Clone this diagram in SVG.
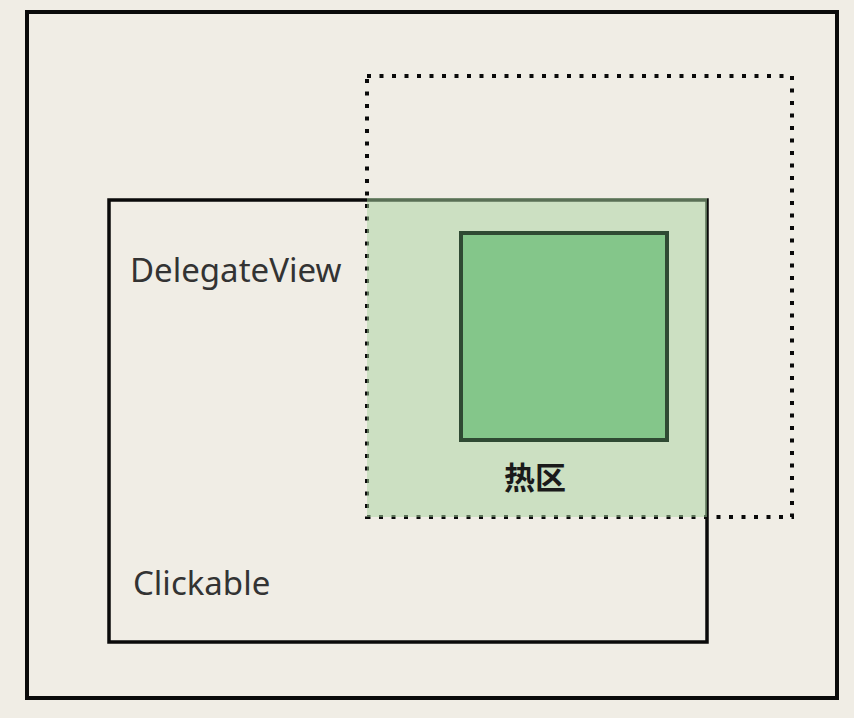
<svg xmlns="http://www.w3.org/2000/svg" width="854" height="718" viewBox="0 0 854 718">
<style>
.box{fill:none;stroke:#0a0a0a}
.lbl{font-family:"Noto Sans","Open Sans","Liberation Sans",sans-serif;font-size:33px;fill:#333}
.cjk{font-family:"Noto Sans CJK SC","Noto Sans",sans-serif;font-size:31px;font-weight:bold;fill:#1a1a1a}
</style>
<rect x="0" y="0" width="854" height="718" fill="#f0ede5"/>
<g id="outer"><rect class="box" x="27" y="12" width="810" height="686" stroke-width="4"/></g>
<g id="clickable">
<rect class="box" x="109" y="200" width="598" height="442" stroke-width="3.5"/>
<text class="lbl" x="133" y="595">Clickable</text>
</g>
<g id="delegate">
<rect x="367" y="76" width="425" height="441" fill="none" stroke="#0a0a0a" stroke-width="4" stroke-dasharray="4 8.5"/>
<text class="lbl" x="130" y="282">DelegateView</text>
</g>
<g id="overlap"><rect x="367" y="198" width="340" height="319" fill="#a8d4a0" fill-opacity="0.5"/></g>
<g id="hotzone">
<rect x="461" y="233" width="206" height="207" fill="#84c68a" stroke="#2f4a33" stroke-width="4"/>
<text class="cjk" x="504" y="489">热区</text>
</g>
</svg>
